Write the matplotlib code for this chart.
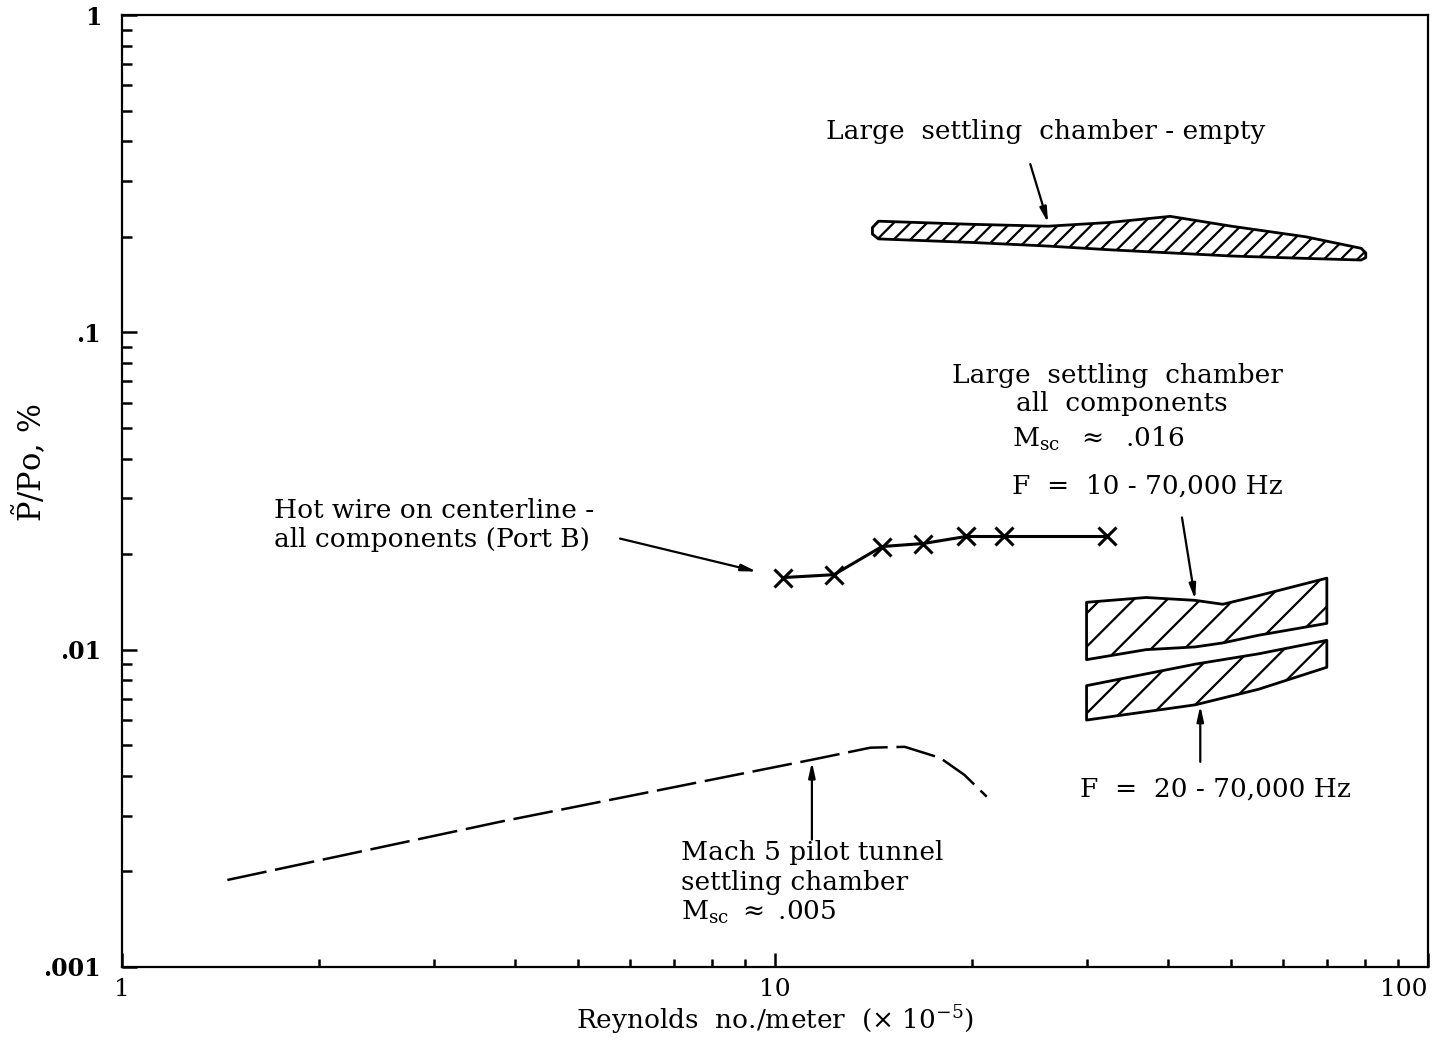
import numpy as np
import matplotlib
matplotlib.use('Agg')
import matplotlib.pyplot as plt
from matplotlib.ticker import LogLocator, NullFormatter, FixedLocator

plt.rcParams['font.family'] = ['DejaVu Serif']
plt.rcParams['mathtext.fontset'] = 'dejavuserif'
plt.rcParams['hatch.linewidth'] = 1.6

# Large settling chamber - empty (band)
empty_re = [14.1, 14.4, 20.0, 26.2, 32.6, 40.3, 50.0, 65.0, 79.0, 80.3]
empty_hi = [0.214, 0.224, 0.219, 0.216, 0.222, 0.232, 0.216, 0.200, 0.184, 0.178]
empty_lo = [0.204, 0.197, 0.192, 0.187, 0.182, 0.178, 0.174, 0.171, 0.169, 0.172]

# Large settling chamber, all components, F = 10 - 70,000 Hz
f10_re = [30.0, 37.0, 44.0, 48.5, 55.0, 70.0]
f10_hi = [0.0141, 0.0146, 0.0143, 0.0139, 0.0148, 0.0168]
f10_lo = [0.0093, 0.0100, 0.0102, 0.0105, 0.0111, 0.0121]

# F = 20 - 70,000 Hz
f20_re = [30.0, 44.0, 55.0, 70.0]
f20_hi = [0.0077, 0.0090, 0.0097, 0.0107]
f20_lo = [0.0060, 0.0067, 0.0075, 0.0088]

# Hot wire on centerline
hw_re = [10.28, 12.31, 14.58, 16.86, 19.61, 22.42, 32.25]
hw_p = [0.01687, 0.01723, 0.02113, 0.02160, 0.02273, 0.02273, 0.02273]

# Mach 5 pilot tunnel settling chamber
m5_re = [1.45, 3.8, 11.4, 14.0, 15.8, 17.9, 19.5, 21.1]
m5_p = [0.00188, 0.00287, 0.00450, 0.00491, 0.00494, 0.00456, 0.00403, 0.00344]

fig = plt.figure(figsize=(14.32, 10.43), dpi=100)
ax = fig.add_axes([0.0852, 0.0729, 0.9120, 0.9127])
ax.set_xscale('log')
ax.set_yscale('log')
ax.set_xlim(1, 100)
ax.set_ylim(0.001, 1)

band = dict(facecolor='white', edgecolor='black', linewidth=2.0, joinstyle='round')
ax.fill_between(empty_re, empty_lo, empty_hi, hatch='//', **band)
ax.fill_between(f10_re, f10_lo, f10_hi, hatch='/', **band)
ax.fill_between(f20_re, f20_lo, f20_hi, hatch='/', **band)

ax.plot(hw_re, hw_p, color='black', lw=2.2, marker='x', ms=13, mew=2.2)
ax.plot(m5_re, m5_p, color='black', lw=1.8, dashes=(16, 3.5))

txt = dict(fontsize=19, color='black')
arr = dict(arrowstyle='-|>,head_length=0.9,head_width=0.2', color='black', lw=1.6,
           shrinkA=0, shrinkB=0)

ax.annotate('', xy=(26.2, 0.221), xytext=(24.6, 0.339), arrowprops=arr)
ax.text(26.0, 0.428, 'Large  settling  chamber - empty', ha='center', va='center', **txt)

ax.text(33.5, 0.0732, 'Large  settling  chamber', ha='center', va='center', **txt)
ax.text(34.0, 0.0597, 'all  components', ha='center', va='center', **txt)
ax.text(23.07, 0.0460, r'M$_{\mathrm{sc}}$  $\approx$  .016', ha='left', va='center', **txt)
ax.text(23.07, 0.0329, 'F  =  10 - 70,000 Hz', ha='left', va='center', **txt)
ax.annotate('', xy=(44.0, 0.01438), xytext=(42.0, 0.0261), arrowprops=arr)

ax.text(29.3, 0.00364, 'F  =  20 - 70,000 Hz', ha='left', va='center', **txt)
ax.annotate('', xy=(44.8, 0.00666), xytext=(44.8, 0.00443), arrowprops=arr)

ax.text(1.709, 0.0274, 'Hot wire on centerline -', ha='left', va='center', **txt)
ax.text(1.709, 0.02223, 'all components (Port B)', ha='left', va='center', **txt)
ax.annotate('', xy=(9.38, 0.01762), xytext=(5.79, 0.02239), arrowprops=arr)

ax.text(7.18, 0.00229, 'Mach 5 pilot tunnel', ha='left', va='center', **txt)
ax.text(7.18, 0.00184, 'settling chamber', ha='left', va='center', **txt)
ax.text(7.18, 0.00149, r'M$_{\mathrm{sc}}$ $\approx$ .005', ha='left', va='center', **txt)
ax.annotate('', xy=(11.39, 0.00443), xytext=(11.39, 0.00252), arrowprops=arr)

# axes, ticks
for s in ax.spines.values():
    s.set_linewidth(1.6)
ax.xaxis.set_major_locator(FixedLocator([1, 10, 100]))
ax.set_xticklabels(['1', '10', '100'])
ax.yaxis.set_major_locator(FixedLocator([0.001, 0.01, 0.1, 1]))
ax.set_yticklabels(['.001', '.01', '.1', '1'], fontweight='bold')
ax.xaxis.set_minor_locator(LogLocator(base=10, subs=np.arange(2, 10)))
ax.yaxis.set_minor_locator(LogLocator(base=10, subs=np.arange(2, 10)))
ax.xaxis.set_minor_formatter(NullFormatter())
ax.yaxis.set_minor_formatter(NullFormatter())
ax.tick_params(which='both', direction='in', top=False, right=False, width=1.8)
ax.tick_params(axis='y', which='major', length=11, labelsize=17, pad=15)
ax.tick_params(axis='y', which='minor', length=7)
ax.tick_params(axis='x', which='major', length=10, labelsize=18, pad=8)
ax.tick_params(axis='x', which='minor', length=6)
ax.get_xticklabels()[-1].set_horizontalalignment('right')

ax.set_xlabel(r'Reynolds  no./meter  ($\times$ 10$^{-5}$)', fontsize=19, labelpad=2)
ax.set_ylabel(r'$\tilde{\mathrm{P}}$/Po, %', fontsize=22)
ax.yaxis.set_label_coords(-0.056, 0.53)

fig.savefig('out.png', dpi=100)
